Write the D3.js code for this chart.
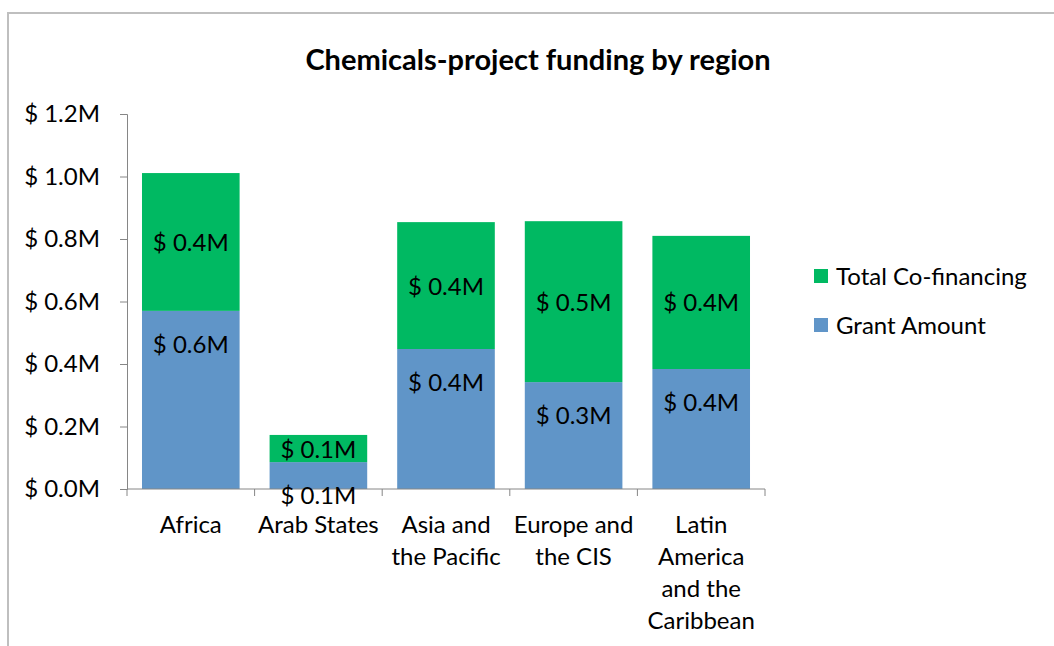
<!DOCTYPE html>
<html>
<head>
<meta charset="utf-8">
<script src="https://cdn.jsdelivr.net/npm/d3@7"></script>
<style>
  body { margin: 0; background: #fff; }
  text { font-family: Lato, "Open Sans", sans-serif; fill: #000; }
</style>
</head>
<body>
<div id="chart"></div>
<script>
// values in $ millions
var regions = ["Africa", "Arab States", "Asia and the Pacific", "Europe and the CIS", "Latin America and the Caribbean"]
var regionLines = [["Africa"], ["Arab States"], ["Asia and", "the Pacific"], ["Europe and", "the CIS"], ["Latin", "America", "and the", "Caribbean"]]
var grantAmount = [0.570, 0.086, 0.448, 0.342, 0.384]
var coFinancing = [0.441, 0.087, 0.406, 0.515, 0.426]
var seriesNames = ["Total Co-financing", "Grant Amount"]
var seriesColors = ["#00b962", "#6095c8"]
var yTicks = [0, 0.2, 0.4, 0.6, 0.8, 1.0, 1.2]

var width = 1054, height = 646
var margin = {top: 114, right: 289, bottom: 157, left: 127}
var w = width - margin.left - margin.right,
    h = height - margin.top - margin.bottom
var fs = "24px"

var svg = d3.select("#chart").append("svg")
  .attr("width", width)
  .attr("height", height)

// chart frame (only top and left edge visible in the crop)
svg.append("path")
  .attr("d", "M8,647 L8,13 L1055,13")
  .attr("fill", "none")
  .attr("stroke", "#bfbfbf")
  .attr("stroke-width", 2)

svg.append("text")
  .attr("x", 538)
  .attr("y", 70)
  .attr("text-anchor", "middle")
  .style("font-size", "29px")
  .style("font-weight", "bold")
  .text("Chemicals-project funding by region")

var g = svg.append("g").attr("transform", "translate(" + margin.left + "," + margin.top + ")")

var x = d3.scaleBand().domain(regions).range([0, w]).paddingInner(0.235).paddingOuter(0.1175)
var y = d3.scaleLinear().domain([0, 1.2]).range([h, 0])

var data = regions.map(function(r, i) {
  return {region: r, grant: grantAmount[i], cofin: coFinancing[i]}
})

var fmt = function(v) { return "$ " + d3.format(".1f")(v) + "M" }

// grant segments
g.selectAll(".grant").data(data).enter().append("rect")
  .attr("class", "grant")
  .attr("x", function(d) { return x(d.region) })
  .attr("width", x.bandwidth())
  .attr("y", function(d) { return y(d.grant) })
  .attr("height", function(d) { return y(0) - y(d.grant) })
  .attr("fill", seriesColors[1])

// co-financing segments
g.selectAll(".cofin").data(data).enter().append("rect")
  .attr("class", "cofin")
  .attr("x", function(d) { return x(d.region) })
  .attr("width", x.bandwidth())
  .attr("y", function(d) { return y(d.grant + d.cofin) })
  .attr("height", function(d) { return y(d.grant) - y(d.grant + d.cofin) })
  .attr("fill", seriesColors[0])

// axes
var yAxis = d3.axisLeft(y).tickValues(yTicks).tickSize(7).tickFormat(fmt)
var gy = g.append("g").call(yAxis)
gy.select(".domain").attr("stroke", "#868686")
gy.selectAll(".tick line").attr("stroke", "#868686")
gy.selectAll(".tick text")
  .attr("x", -27)
  .style("font-size", fs)

var gx = g.append("g").attr("transform", "translate(0," + h + ")")
gx.append("line")
  .attr("x1", 0).attr("x2", w)
  .attr("stroke", "#868686")
var step = w / regions.length
gx.selectAll(".xtick").data(d3.range(regions.length + 1)).enter().append("line")
  .attr("x1", function(d) { return d * step })
  .attr("x2", function(d) { return d * step })
  .attr("y1", 0).attr("y2", 7)
  .attr("stroke", "#868686")

gx.selectAll(".cat").data(regions).enter().append("text")
  .attr("class", "cat")
  .attr("text-anchor", "middle")
  .style("font-size", fs)
  .attr("transform", function(d) { return "translate(" + (x(d) + x.bandwidth() / 2) + ",0)" })
  .each(function(d, i) {
    var t = d3.select(this)
    regionLines[i].forEach(function(line, j) {
      t.append("tspan").attr("x", 0).attr("y", 44 + j * 32).text(line)
    })
  })

// data labels
g.selectAll(".cofinLabel").data(data).enter().append("text")
  .attr("text-anchor", "middle")
  .style("font-size", fs)
  .attr("x", function(d) { return x(d.region) + x.bandwidth() / 2 })
  .attr("y", function(d) { return (y(d.grant) + y(d.grant + d.cofin)) / 2 + 9 })
  .text(function(d) { return fmt(d.cofin) })

g.selectAll(".grantLabel").data(data).enter().append("text")
  .attr("text-anchor", "middle")
  .style("font-size", fs)
  .attr("x", function(d) { return x(d.region) + x.bandwidth() / 2 })
  .attr("y", function(d) { return y(d.grant) + 42 })
  .text(function(d) { return fmt(d.grant) })

// legend
var legend = svg.append("g").attr("transform", "translate(814,269)")
seriesNames.forEach(function(name, i) {
  var row = legend.append("g").attr("transform", "translate(0," + (i * 49) + ")")
  row.append("rect").attr("width", 14).attr("height", 14).attr("fill", seriesColors[i])
  row.append("text").attr("x", 22).attr("y", 16).style("font-size", fs).text(name)
})
</script>
</body>
</html>
